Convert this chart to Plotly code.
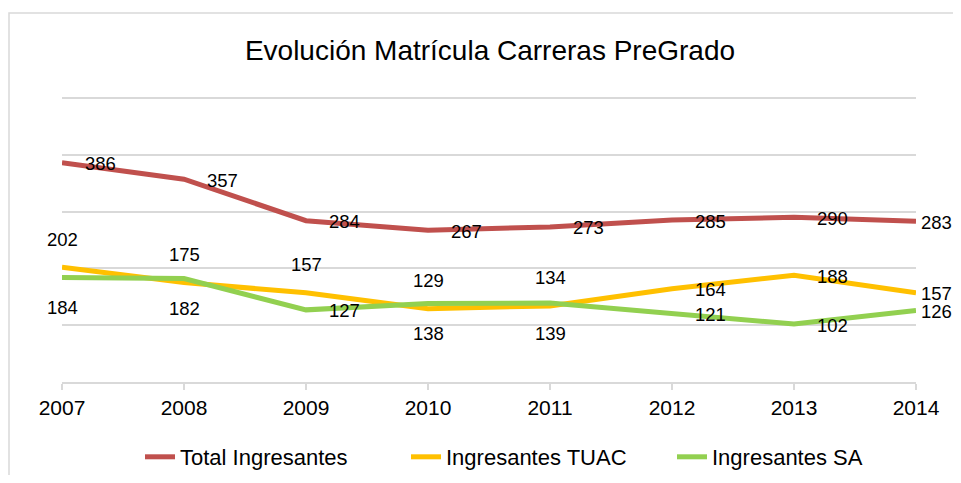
import plotly.graph_objects as go

years = [2007, 2008, 2009, 2010, 2011, 2012, 2013, 2014]
total = [386, 357, 284, 267, 273, 285, 290, 283]
tuac = [202, 175, 157, 129, 134, 164, 188, 157]
sa = [184, 182, 127, 138, 139, 121, 102, 126]

names = ["Total Ingresantes", "Ingresantes TUAC", "Ingresantes SA"]
colors = ["#C0504D", "#FFC000", "#92D050"]

# label placement per point (style only)
pos_total = ["right"] * 7 + ["edge"]
pos_tuac = ["above", "above", "above", "above", "above", "right", "right", "edge"]
pos_sa = ["below", "below", "right", "below", "below", "right", "right", "edge"]

shift = {"right": (38, -1), "edge": (20, -1), "above": (0, 28), "below": (0, -30)}

FONT = "Liberation Sans, Arial, sans-serif"

# page body has an 8px margin; size figure so the page does not scroll
W, H = 945, 467
Y_MAX = 500
PX_PER_UNIT = (382 - 98) / Y_MAX
EXTRA = 3  # px of headroom so the top gridline is not clipped at the plot edge
PL, PR, PT, PB = 62 - 8, 916 - 8, 98 - 8 - EXTRA, 382 - 8  # plot area in figure px
Y_TOP = Y_MAX + EXTRA / PX_PER_UNIT

fig = go.Figure()
annotations = []
for name, vals, col, pos in zip(names, [total, tuac, sa], colors, [pos_total, pos_tuac, pos_sa]):
    fig.add_trace(go.Scatter(x=years, y=vals, mode="lines", name=name,
                             line=dict(color=col, width=5), hoverinfo="x+y"))
    for x, v, p in zip(years, vals, pos):
        xs, ys = shift[p]
        annotations.append(dict(x=x, y=v, xref="x", yref="y", text=str(v), showarrow=False,
                                xanchor="center", yanchor="middle", xshift=xs, yshift=ys,
                                font=dict(family=FONT, size=18.5, color="#000000")))

pw = PR - PL
ph = PB - PT

def px_to_paper_x(px):
    return (px - 8 - PL) / pw

def px_to_paper_y(py):
    return (PB - (py - 8)) / ph

fig.update_layout(
    width=W, height=H,
    margin=dict(l=PL, r=W - PR, t=PT, b=H - PB, autoexpand=False),
    paper_bgcolor="white", plot_bgcolor="white",
    font=dict(family=FONT, color="#000000"),
    title=dict(text="Evolución Matrícula Carreras PreGrado", x=px_to_paper_x(490), xref="paper",
               y=1 - (50 - 8) / H, yref="container", xanchor="center", yanchor="middle",
               font=dict(family=FONT, size=28, color="#000000")),
    xaxis=dict(range=[2007, 2014], tickvals=years, ticktext=[str(y) for y in years],
               showgrid=False, zeroline=False, showline=True, linecolor="#D9D9D9", linewidth=1.5,
               ticks="outside", ticklen=6, tickcolor="#D9D9D9", tickwidth=1.5,
               tickfont=dict(family=FONT, size=21, color="#000000")),
    yaxis=dict(range=[0, Y_TOP], tickvals=[100, 200, 300, 400, 500], showticklabels=False, showgrid=True,
               gridcolor="#D9D9D9", gridwidth=1.5, zeroline=False, showline=False),
    legend=dict(orientation="h", x=px_to_paper_x(140), xanchor="left",
                y=px_to_paper_y(457), yanchor="middle", entrywidth=221, entrywidthmode="pixels",
                font=dict(family=FONT, size=22, color="#000000"), bgcolor="rgba(0,0,0,0)"),
    annotations=annotations,
    shapes=[dict(type="rect", xref="paper", yref="paper",
                 x0=px_to_paper_x(9), x1=px_to_paper_x(975),
                 y0=px_to_paper_y(500), y1=px_to_paper_y(13),
                 line=dict(color="#D9D9D9", width=1.5), fillcolor="rgba(0,0,0,0)", layer="below")],
)

fig.write_html("out.html")
